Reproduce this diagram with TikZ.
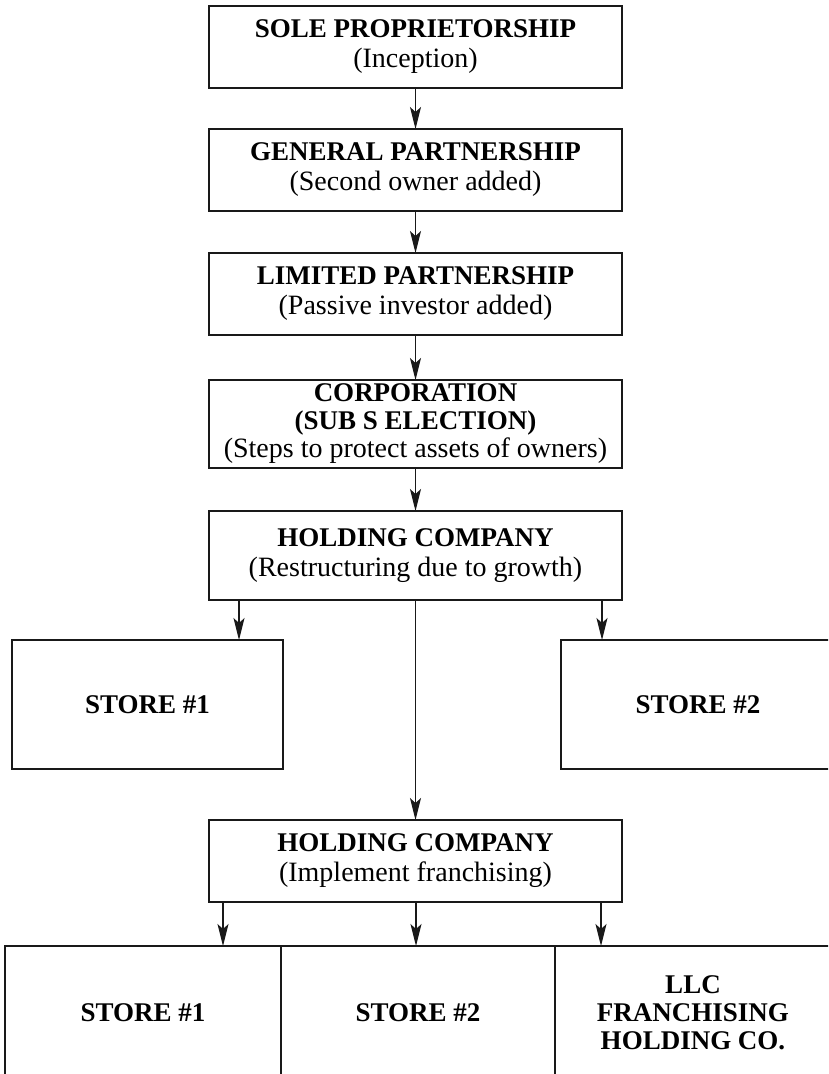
\documentclass[tikz,border=0pt]{standalone}
\usepackage{fontspec}
\setmainfont{Liberation Serif}
\usetikzlibrary{arrows.meta}
\newcommand\hdtxt[1]{{\fontsize{27}{30}\selectfont\bfseries #1}}
\newcommand\subtxt[1]{{\fontsize{28}{30}\selectfont #1}}
\begin{document}
\begin{tikzpicture}[x=1pt,y=-1pt,
  box/.style={draw=black!90, line width=1.3pt, inner sep=0pt, outer sep=0pt,
              align=center, text=black, font=\fontsize{28}{30}\selectfont},
  tightbox/.style={box, font=\fontsize{28}{28}\selectfont},
  arr/.style={draw=black!90, line width=1.2pt,
              -{Stealth[length=22pt,width=11pt,inset=5pt]}}]
\useasboundingbox (0,0) rectangle (828,1074);
\clip (0,0) rectangle (828,1074);

% main chain
\node[box, minimum width=413pt, minimum height=82pt] (b1) at (415.5,47)
  {\hdtxt{SOLE PROPRIETORSHIP}\\\subtxt{(Inception)}};
\node[box, minimum width=413pt, minimum height=82pt] (b2) at (415.5,170)
  {\hdtxt{GENERAL PARTNERSHIP}\\\subtxt{(Second owner added)}};
\node[box, minimum width=413pt, minimum height=82pt] (b3) at (415.5,294)
  {\hdtxt{LIMITED PARTNERSHIP}\\\subtxt{(Passive investor added)}};
\node[tightbox, minimum width=413pt, minimum height=88pt] (b4) at (415.5,424)
  {\hdtxt{CORPORATION}\\\hdtxt{(SUB S ELECTION)}\\\subtxt{(Steps to protect assets of owners)}};
\node[box, minimum width=413pt, minimum height=89pt] (b5) at (415.5,555.5)
  {\hdtxt{HOLDING COMPANY}\\\subtxt{(Restructuring due to growth)}};

\draw[arr] (b1.south) -- (b2.north);
\draw[arr] (b2.south) -- (b3.north);
\draw[arr] (b3.south) -- (b4.north);
\draw[arr] (b4.south) -- (b5.north);

% first store row
\node[box, minimum width=271pt, minimum height=129pt] (s1) at (147.5,704.5)
  {\hdtxt{STORE \#1}};
\node[box, minimum width=274pt, minimum height=129pt] (s2) at (698,704.5)
  {\hdtxt{STORE \#2}};

\coordinate (xa) at (239,0);
\coordinate (xb) at (602,0);
\draw[arr] (b5.south -| xa) -- (s1.north -| xa);
\draw[arr] (b5.south -| xb) -- (s2.north -| xb);

% second holding company
\node[box, minimum width=413pt, minimum height=82pt] (h2) at (415.5,861)
  {\hdtxt{HOLDING COMPANY}\\\subtxt{(Implement franchising)}};
\draw[arr] (b5.south) -- (h2.north);

% bottom row
\node[box, minimum width=276pt, minimum height=134pt] (c1) at (143,1013)
  {\hdtxt{STORE \#1}};
\node[box, minimum width=274pt, minimum height=134pt] (c2) at (418,1013)
  {\hdtxt{STORE \#2}};
\node[tightbox, minimum width=276pt, minimum height=134pt] (c3) at (693,1013)
  {\hdtxt{LLC}\\\hdtxt{FRANCHISING}\\\hdtxt{HOLDING CO.}};

\coordinate (xc) at (223,0);
\coordinate (xd) at (416,0);
\coordinate (xe) at (601,0);
\draw[arr] (h2.south -| xc) -- (c1.north -| xc);
\draw[arr] (h2.south -| xd) -- (c2.north -| xd);
\draw[arr] (h2.south -| xe) -- (c3.north -| xe);
\end{tikzpicture}
\end{document}
